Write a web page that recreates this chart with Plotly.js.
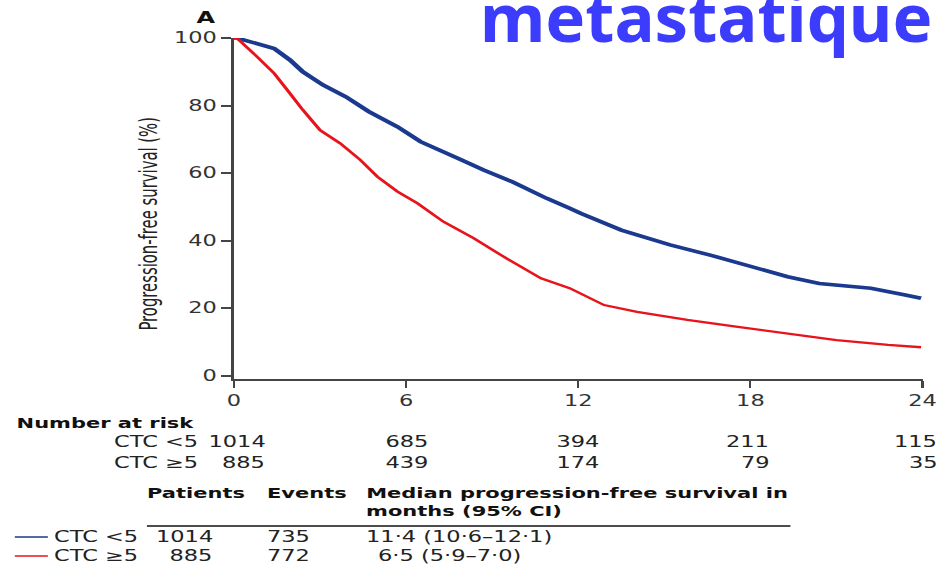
<!DOCTYPE html>
<html>
<head>
<meta charset="utf-8">
<script src="https://cdn.plot.ly/plotly-3.0.1.min.js"></script>
<style>
  html, body { margin: 0; padding: 0; width: 942px; height: 568px; overflow: hidden; background: #fff; }
  #wrap { position: absolute; left: 0; top: 0; width: 628px; height: 568px; transform: scaleX(1.5); transform-origin: 0 0; }
  #chart { width: 628px; height: 568px; }
  #slideTitle { position: absolute; left: 480px; top: -17px; font-family: "Noto Sans", "Open Sans", sans-serif; font-weight: 700; font-size: 67px; line-height: 67px; color: #3c3cfc; white-space: nowrap; }
</style>
</head>
<body>
<div id="wrap"><div id="chart"></div></div>
<div id="slideTitle">metastatique</div>
<script>
// ---- data ----
const monthsLow = [0, 0.1, 1.4, 1.95, 2.4, 3.1, 3.9, 4.7, 5.7, 6.5, 7.8, 8.7, 9.7, 10.9, 11.7, 12.1, 13.5, 15.2, 16.6, 18.1, 19.3, 20.4, 22.2, 23.4, 23.95];
const pfsLow    = [100, 100, 96.9, 93.5, 90.0, 86.1, 82.6, 78.2, 73.7, 69.3, 64.4, 60.9, 57.4, 52.5, 49.6, 48.0, 43.1, 38.7, 35.7, 32.3, 29.3, 27.3, 25.9, 23.9, 22.9];
const monthsHigh = [0, 0.1, 0.8, 1.4, 1.95, 2.4, 3.0, 3.7, 4.4, 5.0, 5.7, 6.4, 7.3, 8.35, 9.5, 10.7, 11.7, 12.9, 14.05, 15.8, 17.5, 19.3, 21.0, 22.8, 23.95];
const pfsHigh    = [100, 100, 94.5, 89.5, 83.6, 78.7, 72.7, 68.8, 63.9, 58.9, 54.5, 51.0, 45.6, 40.7, 34.7, 28.8, 25.9, 20.9, 18.9, 16.5, 14.5, 12.5, 10.5, 9.1, 8.4];

const groupLabels = ["CTC <5", "CTC \u22655"];
const xTicks = [0, 6, 12, 18, 24];
const yTicks = [0, 20, 40, 60, 80, 100];
const riskTimes = [0, 6, 12, 18, 24];
const riskLow  = [1014, 685, 394, 211, 115];
const riskHigh = [885, 439, 174, 79, 35];
const tableHeaders = ["Patients", "Events", "Median progression-free survival in", "months (95% CI)"];
const patients = [1014, 885];
const events = [735, 772];
const medians = ["11\u00b74 (10\u00b76\u201312\u00b71)", "6\u00b75 (5\u00b79\u20137\u00b70)"];

// ---- geometry helpers (reference pixels -> paper coords) ----
const S = 1.5, W = 628, H = 568;
const M = { l: 156, r: W - 922 / S, t: 38, b: H - 379 };
const PW = W - M.l - M.r, PH = H - M.t - M.b;
const px = xr => (xr / S - M.l) / PW;
const py = yr => (379 - yr) / PH;

const blue = "#1b3a8f", red = "#e8141c";
const txt = "#222";
const FONT = "DejaVu Sans, Verdana, sans-serif";
const FS = 15;

const traces = [
  { x: monthsLow, y: pfsLow, mode: "lines", line: { color: blue, width: 3.6 }, name: groupLabels[0], hoverinfo: "skip" },
  { x: monthsHigh, y: pfsHigh, mode: "lines", line: { color: red, width: 2.3 }, name: groupLabels[1], hoverinfo: "skip" }
];

const ann = [];
function t(text, xr, yr, opts) {
  const o = Object.assign({ xanchor: "left" }, opts || {});
  const shift = o.xanchor === "left" ? -3 : (o.xanchor === "right" ? 3 : 0);
  ann.push(Object.assign({ text: text, xref: "paper", yref: "paper", x: px(xr + shift), y: py(yr),
    yanchor: "middle", showarrow: false, borderpad: 0,
    font: { family: FONT, size: FS, color: txt } }, o));
}
// panel letter and y title
t("<b>A</b>", 207, 17, { xanchor: "center", font: { family: FONT, size: 16, color: "#111" } });
t("Progression-free survival (%)", 148, 224, { xanchor: "center", textangle: -90,
  font: { family: "Liberation Sans Narrow, DejaVu Sans Condensed, Arial Narrow, sans-serif", size: 16.5, color: txt } });

// number at risk
t("<b>Number at risk</b>", 18, 423, { font: { family: FONT, size: 14, color: "#111" } });
const riskY = [442, 463];
t(groupLabels[0], 115, riskY[0]);
t(groupLabels[1], 115, riskY[1]);
const riskRight = [30, 22, 20, 18, 14];
riskTimes.forEach((tm, i) => {
  [riskLow, riskHigh].forEach((arr, r) => {
    ann.push({ text: String(arr[i]), xref: "x", yref: "paper", x: tm, y: py(riskY[r]), xanchor: "right", yanchor: "middle",
      xshift: (riskRight[i] + 3) / S, showarrow: false, borderpad: 0, font: { family: FONT, size: FS, color: txt } });
  });
});

// summary table
const hf = { family: FONT, size: 14, color: "#111" };
t("<b>" + tableHeaders[0] + "</b>", 148, 493, { font: hf });
t("<b>" + tableHeaders[1] + "</b>", 268, 493, { font: hf });
t("<b>" + tableHeaders[2] + "</b>", 368, 493, { font: hf });
t("<b>" + tableHeaders[3] + "</b>", 368, 511, { font: hf });
const rowsY = [537, 556];
const medX = [368, 380];
[0, 1].forEach(i => {
  t(groupLabels[i], 55, rowsY[i]);
  t(String(patients[i]), 212, rowsY[i], { xanchor: "right" });
  t(String(events[i]), 268, rowsY[i]);
  t(medians[i], medX[i], rowsY[i]);
});

const shapes = [
  { type: "line", xref: "paper", yref: "paper", x0: px(147), x1: px(790), y0: py(526), y1: py(526), line: { color: "#111", width: 1.5 } },
  { type: "line", xref: "paper", yref: "paper", x0: px(15), x1: px(48), y0: py(537), y1: py(537), line: { color: blue, width: 1.5 } },
  { type: "line", xref: "paper", yref: "paper", x0: px(15), x1: px(48), y0: py(556), y1: py(556), line: { color: red, width: 1.5 } }
];

const axisFont = { family: FONT, size: 15, color: "#333" };
const layout = {
  width: W, height: H,
  margin: M,
  paper_bgcolor: "#fff", plot_bgcolor: "#fff",
  showlegend: false,
  xaxis: { range: [0, 24], tickvals: xTicks, ticktext: xTicks.map(String), ticks: "outside", ticklen: 7, tickwidth: 1.4,
    tickcolor: "#444", showline: true, linecolor: "#444", linewidth: 2, showgrid: false, zeroline: false,
    tickfont: axisFont, fixedrange: true },
  yaxis: { range: [-1, 100], tickvals: yTicks, ticktext: yTicks.map(String), ticks: "outside", ticklen: 6.7, tickwidth: 2,
    tickcolor: "#444", showline: true, linecolor: "#444", linewidth: 1.7, showgrid: false, zeroline: false,
    tickfont: axisFont, fixedrange: true },
  annotations: ann,
  shapes: shapes
};

Plotly.newPlot("chart", traces, layout, { staticPlot: true, displayModeBar: false });
</script>
</body>
</html>
